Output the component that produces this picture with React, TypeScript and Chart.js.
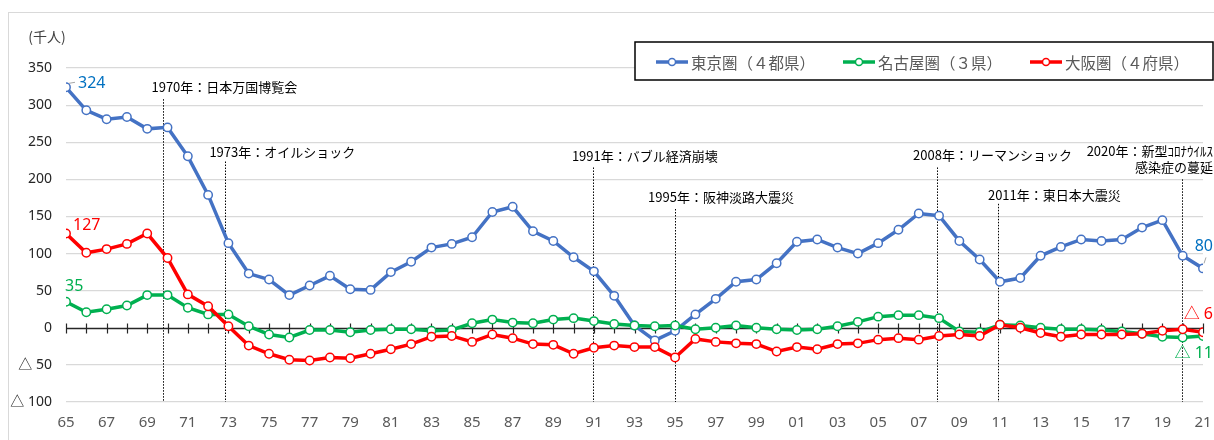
import React, { useEffect, useRef } from "react";
import { Chart, registerables } from "chart.js";

Chart.register(...registerables);

const years = [
  1965, 1966, 1967, 1968, 1969, 1970, 1971, 1972, 1973, 1974,
  1975, 1976, 1977, 1978, 1979, 1980, 1981, 1982, 1983, 1984,
  1985, 1986, 1987, 1988, 1989, 1990, 1991, 1992, 1993, 1994,
  1995, 1996, 1997, 1998, 1999, 2000, 2001, 2002, 2003, 2004,
  2005, 2006, 2007, 2008, 2009, 2010, 2011, 2012, 2013, 2014,
  2015, 2016, 2017, 2018, 2019, 2020, 2021,
];

const tokyo = [
  324, 293, 281, 284, 268, 270, 231, 179, 114, 73,
  65, 44, 57, 70, 52, 51, 75, 89, 108, 113,
  122, 156, 163, 130, 117, 95, 76, 43, 3, -17,
  -4, 18, 39, 62, 65, 87, 116, 119, 108, 100,
  114, 132, 154, 151, 117, 92, 62, 67, 97, 109,
  119, 117, 119, 135, 145, 97, 80,
];

const nagoya = [
  35, 21, 25, 30, 44, 44, 27, 18, 18, 2,
  -9, -13, -3, -3, -6, -3, -2, -2, -4, -3,
  6, 11, 7, 6, 11, 13, 9, 5, 3, 2,
  3, -2, 0, 3, 0, -2, -3, -2, 2, 8,
  15, 17, 17, 13, -5, -6, 4, 3, 0, -2,
  -2, -3, -5, -8, -12, -13, -11,
];

const osaka = [
  127, 101, 106, 113, 127, 94, 45, 29, 2, -24,
  -35, -43, -44, -40, -41, -35, -29, -22, -12, -11,
  -19, -9, -14, -22, -23, -35, -27, -24, -26, -26,
  -40, -15, -19, -21, -22, -32, -26, -29, -22, -21,
  -16, -14, -16, -11, -9, -11, 4, 0, -7, -12,
  -9, -9, -9, -8, -4, -2, -6,
];

const seriesNames = ["東京圏（４都県）", "名古屋圏（３県）", "大阪圏（４府県）"];
const seriesColors = ["#4472C4", "#00B050", "#FF0000"];

const yTicks = [-100, -50, 0, 50, 100, 150, 200, 250, 300, 350];

// event markers: label lines, x position (year), top of dotted line (value)
const eventLabels = [
  ["1970年：日本万国博覧会"],
  ["1973年：オイルショック"],
  ["1991年：バブル経済崩壊"],
  ["1995年：阪神淡路大震災"],
  ["2008年：リーマンショック"],
  ["2011年：東日本大震災"],
  ["2020年：新型ｺﾛﾅｳｲﾙｽ", "感染症の蔓延"],
];
const eventYears = [1969.8, 1972.85, 1990.95, 1995, 2007.9, 2010.9, 2019.95];
const eventTops = [308, 224, 216, 160, 216, 167, 200];

const JP = '"Noto Sans CJK JP", "Noto Sans", sans-serif';
const NUM = '"Noto Sans", "Noto Sans CJK JP", sans-serif';

const fmtY = (v: number) => (v < 0 ? "△ " + -v : String(v));

const decorPlugin = {
  id: "decor",
  beforeDraw(chart: any) {
    const ctx = chart.ctx;
    ctx.save();
    ctx.strokeStyle = "#D9D9D9";
    ctx.lineWidth = 1;
    ctx.strokeRect(8.5, 12.5, 1400, 600);
    ctx.fillStyle = "#404040";
    ctx.font = "14px " + JP;
    ctx.textAlign = "center";
    ctx.textBaseline = "middle";
    ctx.fillText("(千人)", 47, 37);
    ctx.restore();
  },
  beforeDatasetsDraw(chart: any) {
    const ctx = chart.ctx;
    const xs = chart.scales.x;
    const ys = chart.scales.y;
    const y0 = Math.round(ys.getPixelForValue(0)) + 0.5;
    ctx.save();
    ctx.strokeStyle = "#262626";
    ctx.lineWidth = 1.5;
    ctx.beginPath();
    ctx.moveTo(xs.left, y0);
    ctx.lineTo(xs.right, y0);
    ctx.stroke();
    ctx.lineWidth = 1.2;
    years.forEach((yr) => {
      const px = Math.round(xs.getPixelForValue(yr)) + 0.5;
      ctx.beginPath();
      ctx.moveTo(px, y0 - 5);
      ctx.lineTo(px, y0 + 5);
      ctx.stroke();
    });
    ctx.strokeStyle = "#000";
    ctx.lineWidth = 1;
    ctx.setLineDash([1.5, 1.5]);
    eventYears.forEach((ev, i) => {
      const px = Math.round(xs.getPixelForValue(ev)) + 0.5;
      ctx.beginPath();
      ctx.moveTo(px, ys.getPixelForValue(eventTops[i]));
      ctx.lineTo(px, ys.getPixelForValue(-100));
      ctx.stroke();
    });
    ctx.setLineDash([]);
    ctx.fillStyle = "#000";
    ctx.font = "13px " + JP;
    ctx.textBaseline = "middle";
    const dxs = [-12, -16, -21, -27, -24, -10, 0];
    const dys = [-12, -9, -11, -12, -12, -9, -28];
    eventLabels.forEach((lines, i) => {
      const px = xs.getPixelForValue(eventYears[i]);
      const py = ys.getPixelForValue(eventTops[i]);
      if (i === eventLabels.length - 1) {
        ctx.textAlign = "right";
        lines.forEach((t, j) => ctx.fillText(t, 1213, py + dys[i] + j * 16));
      } else {
        ctx.textAlign = "left";
        lines.forEach((t, j) => ctx.fillText(t, px + dxs[i], py + dys[i] + j * 16));
      }
    });
    ctx.restore();
  },
  afterDraw(chart: any) {
    const ctx = chart.ctx;
    const xs = chart.scales.x;
    const ys = chart.scales.y;
    ctx.save();
    ctx.textBaseline = "middle";
    ctx.textAlign = "left";
    ctx.font = "16px " + NUM;
    const first = 0;
    const last = years.length - 1;
    const px0 = xs.getPixelForValue(years[first]);
    const pxN = xs.getPixelForValue(years[last]);
    ctx.fillStyle = "#0070C0";
    ctx.fillText(String(tokyo[first]), px0 + 12, ys.getPixelForValue(tokyo[first]) - 4);
    ctx.fillStyle = "#FF0000";
    ctx.fillText(String(osaka[first]), px0 + 7, ys.getPixelForValue(osaka[first]) - 8);
    ctx.fillStyle = "#00B050";
    ctx.fillText(String(nagoya[first]), px0 - 1, ys.getPixelForValue(nagoya[first]) - 15);
    ctx.textAlign = "right";
    ctx.fillStyle = "#0070C0";
    ctx.fillText(String(tokyo[last]), pxN + 10, ys.getPixelForValue(tokyo[last]) - 22);
    ctx.fillStyle = "#FF0000";
    ctx.fillText(fmtY(osaka[last]), pxN + 10, ys.getPixelForValue(osaka[last]) - 18);
    ctx.fillStyle = "#00B050";
    ctx.fillText(fmtY(nagoya[last]), pxN + 10, ys.getPixelForValue(nagoya[last]) + 17);
    ctx.strokeStyle = "#A6A6A6";
    ctx.lineWidth = 1;
    ctx.beginPath();
    ctx.moveTo(px0 + 3, ys.getPixelForValue(tokyo[first]) - 4);
    ctx.lineTo(px0 + 9, ys.getPixelForValue(tokyo[first]) - 5);
    ctx.moveTo(pxN + 1, ys.getPixelForValue(tokyo[last]) - 5);
    ctx.lineTo(pxN + 3, ys.getPixelForValue(tokyo[last]) - 11);
    ctx.stroke();

    // legend
    ctx.fillStyle = "#fff";
    ctx.fillRect(635, 42, 578, 38);
    ctx.strokeStyle = "#000";
    ctx.lineWidth = 1.5;
    ctx.strokeRect(635, 42, 578, 38);
    const lx = [656, 843, 1030];
    const ly = 62;
    ctx.font = "15.5px " + JP;
    ctx.textAlign = "left";
    seriesNames.forEach((name, i) => {
      ctx.strokeStyle = seriesColors[i];
      ctx.lineWidth = 3.5;
      ctx.beginPath();
      ctx.moveTo(lx[i], ly);
      ctx.lineTo(lx[i] + 32, ly);
      ctx.stroke();
      ctx.fillStyle = "#fff";
      ctx.lineWidth = 1.5;
      ctx.beginPath();
      ctx.arc(lx[i] + 16, ly, 3.5, 0, Math.PI * 2);
      ctx.fill();
      ctx.stroke();
      ctx.fillStyle = "#595959";
      ctx.fillText(name, lx[i] + 35, ly + 1);
    });
    ctx.restore();
  },
};

export default function App() {
  const ref = useRef<HTMLCanvasElement>(null);
  useEffect(() => {
    if (!ref.current) return;
    const mk = (vals: number[]) => vals.map((v, i) => ({ x: years[i], y: v }));
    const allSeries = [tokyo, nagoya, osaka];
    const chart = new Chart(ref.current, {
      type: "line",
      data: {
        datasets: allSeries.map((s, i) => ({
          label: seriesNames[i],
          data: mk(s),
          borderColor: seriesColors[i],
          backgroundColor: "#fff",
          borderWidth: 3.5,
          pointRadius: 4.2,
          pointBorderWidth: 1.5,
          pointBackgroundColor: "#fff",
          pointBorderColor: seriesColors[i],
          tension: 0,
          order: 2 - i,
        })),
      },
      options: {
        animation: false,
        responsive: false,
        maintainAspectRatio: false,
        layout: { padding: { left: 0, right: 11, top: 68, bottom: 0 } },
        plugins: {
          legend: { display: false },
          tooltip: { enabled: false },
          title: { display: false },
        },
        scales: {
          x: {
            type: "linear",
            min: 1965,
            max: 2021,
            afterBuildTicks: (scale: any) => {
              scale.ticks = years.filter((_, i) => i % 2 === 0).map((v) => ({ value: v }));
            },
            afterFit: (scale: any) => {
              scale.height = 38;
              scale.paddingLeft = 0;
              scale.paddingRight = 0;
            },
            grid: { display: false, drawTicks: false },
            border: { display: false },
            ticks: {
              autoSkip: false,
              maxRotation: 0,
              padding: 12,
              color: "#595959",
              font: { size: 15, family: NUM },
              callback: (v: any) => String(Number(v) % 100).padStart(2, "0"),
            },
          },
          y: {
            type: "linear",
            min: -100,
            max: 350,
            afterBuildTicks: (scale: any) => {
              scale.ticks = yTicks.map((v) => ({ value: v }));
            },
            afterFit: (scale: any) => {
              scale.width = 66;
              scale.paddingTop = 0;
              scale.paddingBottom = 0;
            },
            grid: {
              drawTicks: false,
              color: (c: any) => (c.tick && c.tick.value === 0 ? "rgba(0,0,0,0)" : "#D9D9D9"),
              lineWidth: 1.2,
            },
            border: { display: false },
            ticks: {
              padding: 14,
              color: "#262626",
              font: { size: 14, family: NUM },
              callback: (v: any) => fmtY(Number(v)),
            },
          },
        },
      },
      plugins: [decorPlugin],
    });
    return () => chart.destroy();
  }, []);
  return (
    <div style={{ position: "fixed", left: 0, top: 0, width: 1214, height: 440, background: "#fff" }}>
      <canvas ref={ref} width={1214} height={440} style={{ display: "block", width: 1214, height: 440 }} />
    </div>
  );
}
